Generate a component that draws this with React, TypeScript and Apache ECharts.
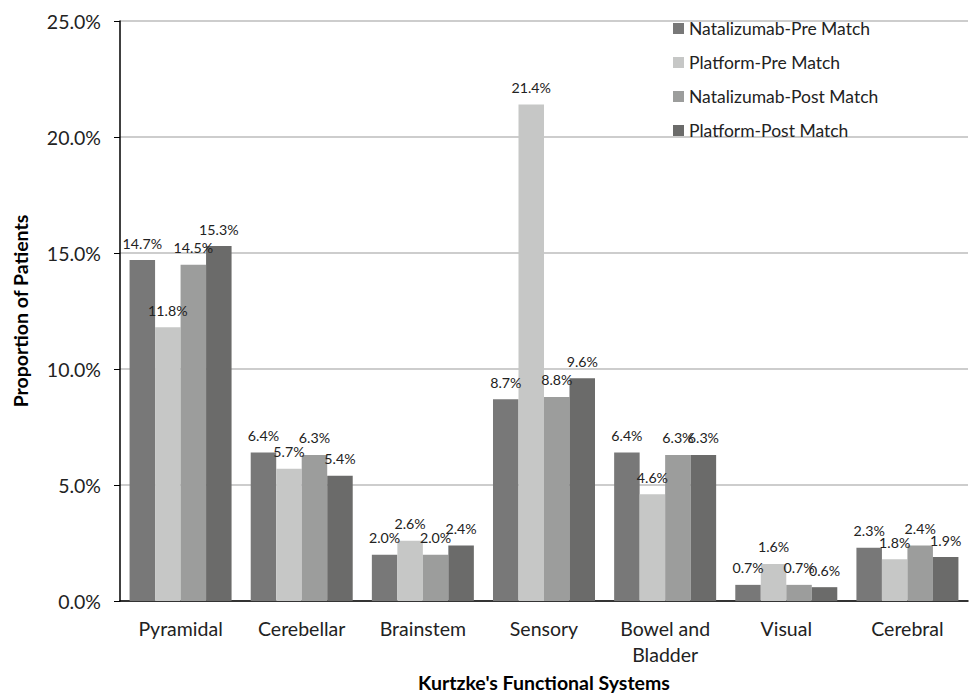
import React, { useEffect, useRef } from "react";
import * as echarts from "echarts";

const categories = ["Pyramidal", "Cerebellar", "Brainstem", "Sensory", "Bowel and\nBladder", "Visual", "Cerebral"];
const seriesNames = ["Natalizumab-Pre Match", "Platform-Pre Match", "Natalizumab-Post Match", "Platform-Post Match"];
const natalizumabPre = [14.7, 6.4, 2.0, 8.7, 6.4, 0.7, 2.3];
const platformPre = [11.8, 5.7, 2.6, 21.4, 4.6, 1.6, 1.8];
const natalizumabPost = [14.5, 6.3, 2.0, 8.8, 6.3, 0.7, 2.4];
const platformPost = [15.3, 5.4, 2.4, 9.6, 6.3, 0.6, 1.9];
const colors = ["#787878", "#c6c7c6", "#9c9d9c", "#6b6b6a"];

const font = "Lato, 'Open Sans', sans-serif";

export default function App() {
  const ref = useRef<HTMLDivElement>(null);
  useEffect(() => {
    if (!ref.current) return;
    const chart = echarts.init(ref.current, null, { renderer: "svg" });
    const dataSets = [natalizumabPre, platformPre, natalizumabPost, platformPost];
    chart.setOption({
      animation: false,
      backgroundColor: "#ffffff",
      grid: { left: 120, right: 1, top: 21, bottom: 94 },
      legend: {
        orient: "vertical",
        left: 668,
        top: 13,
        itemWidth: 11,
        itemHeight: 11,
        itemGap: 13,
        icon: "rect",
        textStyle: { fontSize: 17.5, color: "#222", fontFamily: font, lineHeight: 21 },
        data: seriesNames,
      },
      xAxis: {
        type: "category",
        data: categories,
        axisLine: { lineStyle: { color: "#000", width: 1.5 } },
        axisTick: { show: false },
        axisLabel: { fontSize: 19.5, color: "#222", fontFamily: font, margin: 14, lineHeight: 26 },
        name: "Kurtzke's Functional Systems",
        nameLocation: "middle",
        nameGap: 70,
        nameTextStyle: { fontSize: 19.5, fontWeight: "bold", color: "#000", fontFamily: font },
      },
      yAxis: {
        type: "value",
        min: 0,
        max: 25,
        interval: 5,
        axisLine: { show: true, lineStyle: { color: "#000", width: 1.5 } },
        axisTick: { show: true, length: 6, lineStyle: { color: "#000" } },
        splitLine: { lineStyle: { color: "#bdbdbd", width: 1.5 } },
        axisLabel: {
          fontSize: 19.5,
          color: "#222",
          fontFamily: font,
          margin: 19,
          formatter: (v: number) => v.toFixed(1) + "%",
        },
        name: "Proportion of Patients",
        nameLocation: "middle",
        nameGap: 90,
        nameTextStyle: { fontSize: 19.5, fontWeight: "bold", color: "#000", fontFamily: font },
      },
      series: seriesNames.map((name, i) => ({
        name,
        type: "bar",
        data: dataSets[i],
        barGap: "0%",
        barCategoryGap: "15.8%",
        itemStyle: { color: colors[i] },
        label: {
          show: true,
          position: "top",
          distance: 10,
          fontSize: 14.2,
          color: "#222",
          fontFamily: font,
          formatter: (p: any) => p.value.toFixed(1) + "%",
        },
      })),
    });
    return () => chart.dispose();
  }, []);
  return <div ref={ref} style={{ width: 969, height: 697, position: "absolute", left: 0, top: 0 }} />;
}
